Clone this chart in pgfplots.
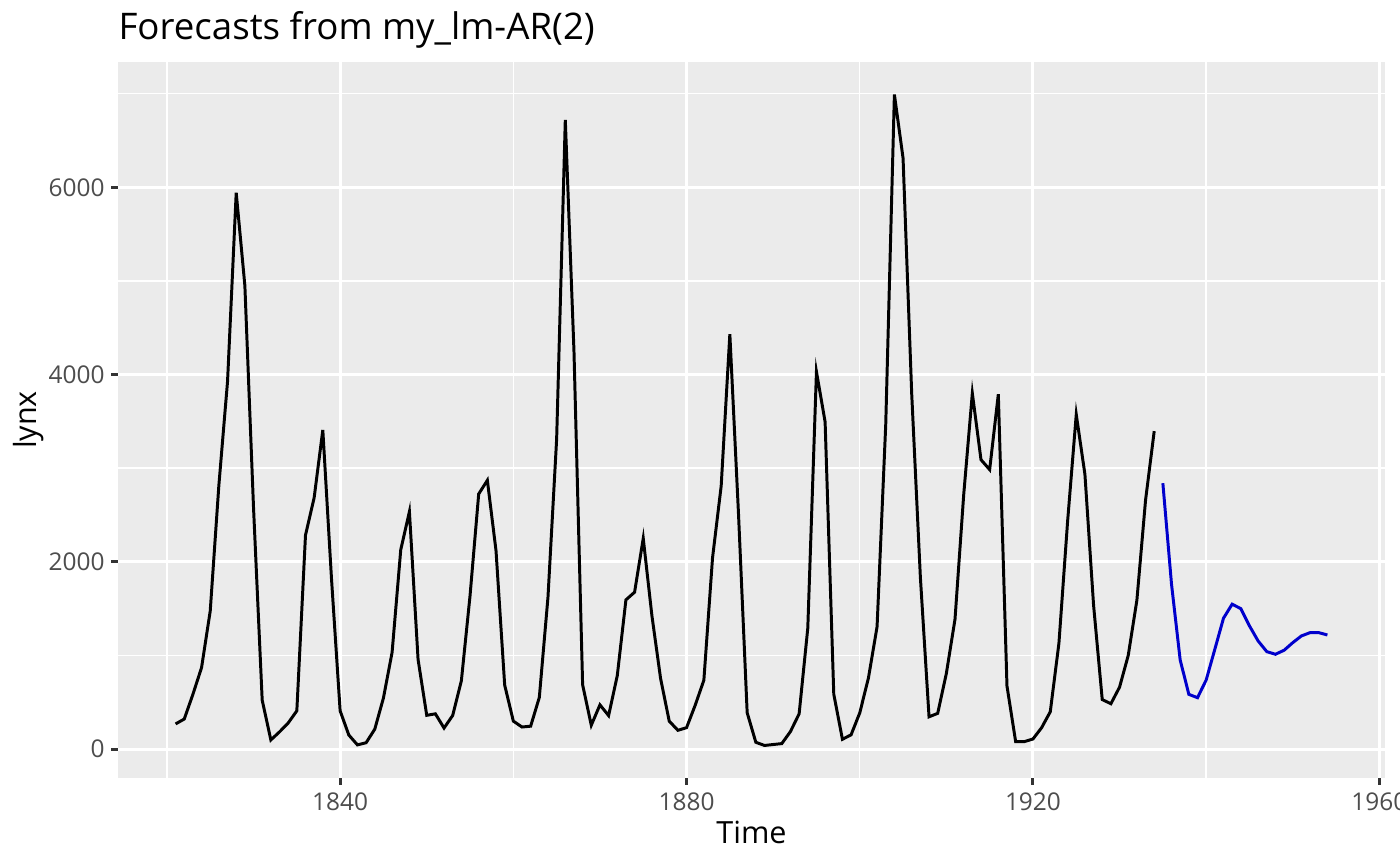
\documentclass[border=0pt]{standalone}
\usepackage{pgfplots}
\pgfplotsset{compat=1.18}
\usepackage{fontspec}
\setmainfont{Open Sans}
\definecolor{panel}{HTML}{EBEBEB}
\definecolor{tickgray}{HTML}{4D4D4D}
\definecolor{tickmark}{HTML}{333333}
\definecolor{fcblue}{HTML}{0000CC}
\begin{document}
\begin{tikzpicture}
\path[use as bounding box, clip] (-42.48pt,-31.68pt) rectangle (461.52pt,280.08pt);
\begin{axis}[
  name=ax,
  at={(0,0)}, anchor=south west,
  scale only axis,
  width=456.12pt, height=257.76pt,
  xmin=1814.35, xmax=1960.65,
  ymin=-308.6, ymax=7338.6,
  axis background/.style={fill=panel},
  axis line style={draw=none},
  xtick={1840,1880,1920,1960},
  ytick={0,2000,4000,6000},
  minor xtick={1820,1860,1900,1940},
  minor ytick={1000,3000,5000,7000},
  grid=both,
  major grid style={white, line width=1.07pt},
  minor grid style={white, line width=0.53pt},
  tick align=outside,
  xtick pos=bottom, ytick pos=left,
  major tick length=2.5pt,
  minor tick length=0pt,
  tick style={tickmark, line width=1.07pt},
  /pgf/number format/assume math mode=true,
  /pgf/number format/set thousands separator={},
  scaled ticks=false,
  ticklabel style={font=\fontsize{8.8}{10}\selectfont, text=tickgray},
  xticklabel style={yshift=0.6pt},
  yticklabel style={xshift=1.2pt},
  xlabel={Time}, ylabel={lynx},
  label style={font=\fontsize{11}{13}\selectfont},
  xlabel style={at={(axis description cs:0.5,-0.0908)}, anchor=base, inner sep=0pt},
  ylabel style={at={(axis description cs:-0.0702,0.5)}, anchor=center, inner sep=0pt},
  title={Forecasts from my\_lm-AR(2)},
  title style={font=\fontsize{13.2}{15}\selectfont, anchor=base west, at={(0,1)}, inner sep=0pt, yshift=2.2pt},
  clip=true,
]
\addplot[black, line width=1.07pt] table[x=year, y=value] {
year value
1821 269
1822 321
1823 585
1824 871
1825 1475
1826 2821
1827 3928
1828 5943
1829 4950
1830 2577
1831 523
1832 98
1833 184
1834 279
1835 409
1836 2285
1837 2685
1838 3409
1839 1824
1840 409
1841 151
1842 45
1843 68
1844 213
1845 546
1846 1033
1847 2129
1848 2536
1849 957
1850 361
1851 377
1852 225
1853 360
1854 731
1855 1638
1856 2725
1857 2871
1858 2119
1859 684
1860 299
1861 236
1862 245
1863 552
1864 1623
1865 3311
1866 6721
1867 4254
1868 687
1869 255
1870 473
1871 358
1872 784
1873 1594
1874 1676
1875 2251
1876 1426
1877 756
1878 299
1879 201
1880 229
1881 469
1882 736
1883 2042
1884 2811
1885 4431
1886 2511
1887 389
1888 73
1889 39
1890 49
1891 59
1892 188
1893 377
1894 1292
1895 4031
1896 3495
1897 587
1898 105
1899 153
1900 387
1901 758
1902 1307
1903 3465
1904 6991
1905 6313
1906 3794
1907 1836
1908 345
1909 382
1910 808
1911 1388
1912 2713
1913 3800
1914 3091
1915 2985
1916 3790
1917 674
1918 81
1919 80
1920 108
1921 229
1922 399
1923 1132
1924 2432
1925 3574
1926 2935
1927 1537
1928 529
1929 485
1930 662
1931 1000
1932 1590
1933 2657
1934 3396
};
\addplot[fcblue, line width=1.07pt] table[x=year, y=value] {
year value
1935 2840
1936 1761
1937 952
1938 585
1939 549
1940 738
1941 1066
1942 1398
1943 1548
1944 1500
1945 1316
1946 1155
1947 1041
1948 1013
1949 1056
1950 1137
1951 1209
1952 1244
1953 1244
1954 1219
};
\end{axis}
\end{tikzpicture}
\end{document}
